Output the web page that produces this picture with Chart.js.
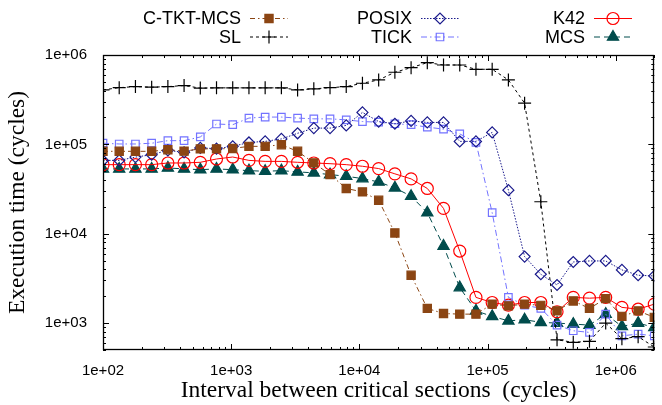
<!DOCTYPE html>
<html>
<head>
<meta charset="utf-8">
<script src="https://cdn.jsdelivr.net/npm/chart.js@4.4.1/dist/chart.umd.min.js"></script>
<style>
  html, body { margin: 0; padding: 0; background: #fff; }
  #wrap { position: relative; width: 662px; height: 405px; }
</style>
</head>
<body>
<div id="wrap"><canvas id="c" width="662" height="405"></canvas></div>
<script>
// Interval between critical sections (cycles)
const xValues = [100, 133.8, 179.1, 239.7, 320.7, 429.1, 574.2, 768.4, 1028, 1376, 1841, 2464, 3297, 4412, 5904, 7900,
  10570, 14145, 18928, 25330, 33895, 45357, 60696, 81222, 108690, 145447, 194635, 260458, 348543, 466415, 624152,
  835229, 1117689, 1495684, 2000000];

const cTktMcs = [83600, 83600, 83600, 83600, 87000, 84000, 89000, 89000, 90000, 95000, 95000, 99000, 83600, 62000, 45900, 32100,
  29400, 23700, 10200, 3430, 1460, 1280, 1260, 1260, 1630, 1560, 1630, 1580, 1370, 1770, 1460, 1880, 1190, 1370, 1160];
const sl = [407000, 431000, 443000, 436000, 443000, 455000, 426000, 429000, 429000, 429000, 429000, 429000, 407000, 418000, 431000, 443000,
  483000, 526000, 641000, 722000, 821000, 773000, 773000, 692000, 692000, 526000, 289000, 22800, 650, 610, 625, 1000, 670, 705, 540];
const posix = [66200, 66200, 72000, 76700, 85700, 81400, 91200, 89600, 95000, 105000, 108000, 115000, 133000, 152000, 152000, 163000,
  228000, 180000, 170000, 183000, 176000, 176000, 108000, 108000, 136000, 30700, 5550, 3520, 2670, 4830, 4960, 4960, 3940, 3430, 3370];
const tick = [103000, 101000, 101000, 103000, 110000, 110000, 121000, 169000, 166000, 197000, 202000, 202000, 197000, 193000, 193000, 188000,
  180000, 177000, 170000, 166000, 156000, 148000, 131000, 105000, 17200, 1940, 1590, 1460, 950, 821, 787, 1260, 721, 753, 721];
const k42 = [59300, 59300, 59300, 59300, 61900, 61900, 63000, 68600, 72200, 66200, 64500, 64500, 63000, 61900, 60800, 59300,
  56900, 53600, 46800, 41100, 32100, 19200, 6400, 1940, 1700, 1590, 1700, 1700, 1340, 1940, 1900, 1940, 1500, 1430, 1630];
const mcs = [53100, 53100, 53100, 53100, 54500, 53100, 52100, 53100, 52100, 50800, 50000, 50800, 49200, 48000, 45900, 44000,
  41400, 38000, 32600, 26300, 17200, 7280, 2500, 1370, 1190, 1060, 1090, 1020, 1000, 975, 950, 1260, 918, 1000, 895];

const seriesNames = ['C-TKT-MCS', 'SL', 'POSIX', 'TICK', 'K42', 'MCS'];
const xTickValues = [1e2, 1e3, 1e4, 1e5, 1e6];
const xTickLabels = ['1e+02', '1e+03', '1e+04', '1e+05', '1e+06'];
const yTickValues = [1e3, 1e4, 1e5, 1e6];
const yTickLabels = ['1e+03', '1e+04', '1e+05', '1e+06'];

const toPts = arr => arr.map((v, i) => ({ x: xValues[i], y: v }));

const styles = [
  { color: '#8b4513', point: 'rect', r: 5.8, fill: true, dash: [5, 3, 1.5, 3] },
  { color: '#000000', point: 'cross', r: 6.5, fill: false, dash: [3, 3] },
  { color: '#1a1a8c', point: 'rectRot', r: 5.5, fill: false, dash: [1.5, 1.5] },
  { color: '#7373ff', point: 'rect', r: 5.3, fill: false, dash: [6, 3, 1.5, 3] },
  { color: '#ff0000', point: 'circle', r: 6, fill: false, dash: [] },
  { color: '#004c4c', point: 'triangle', r: 6.5, fill: true, dash: [6, 4] }
];
const allSeries = [cTktMcs, sl, posix, tick, k42, mcs];

const datasets = allSeries.map((s, i) => ({
  label: seriesNames[i],
  data: toPts(s),
  borderColor: styles[i].color,
  backgroundColor: styles[i].fill ? styles[i].color : 'rgba(0,0,0,0)',
  borderWidth: 1,
  borderDash: styles[i].dash,
  pointStyle: styles[i].point,
  pointRadius: styles[i].r,
  pointBorderWidth: 1.2,
  pointBorderColor: styles[i].color,
  pointBackgroundColor: styles[i].fill ? styles[i].color : 'rgba(0,0,0,0)',
  tension: 0
}));

const legendCols = [241, 412, 585];
const legendRows = [18.5, 37];

const gnuplotDeco = {
  id: 'gnuplotDeco',
  afterDraw(chart) {
    const { ctx, chartArea: a, scales } = chart;
    const xs = scales.x, ys = scales.y;
    ctx.save();
    ctx.strokeStyle = '#000';
    ctx.lineWidth = 1;
    ctx.setLineDash([]);
    const line = (x1, y1, x2, y2) => { ctx.beginPath(); ctx.moveTo(x1, y1); ctx.lineTo(x2, y2); ctx.stroke(); };
    for (let d = 2; d <= 6; d++) {
      for (let m = 1; m <= 9; m++) {
        const v = m * Math.pow(10, d);
        if (v < xs.min || v > xs.max) continue;
        const px = Math.round(xs.getPixelForValue(v)) + 0.5;
        const len = m === 1 ? 6 : 3;
        line(px, a.bottom, px, a.bottom - len);
        line(px, a.top, px, a.top + len);
      }
    }
    for (let d = 2; d <= 6; d++) {
      for (let m = 1; m <= 9; m++) {
        const v = m * Math.pow(10, d);
        if (v < ys.min || v > ys.max) continue;
        const py = Math.round(ys.getPixelForValue(v)) + 0.5;
        const len = m === 1 ? 6 : 3;
        line(a.left, py, a.left + len, py);
        line(a.right, py, a.right - len, py);
      }
    }
    ctx.lineWidth = 1.3;
    ctx.strokeRect(Math.round(a.left) + 0.5, Math.round(a.top) + 0.5, Math.round(a.right - a.left) - 1, Math.round(a.bottom - a.top) - 1);

    // legend
    ctx.font = '18px "Liberation Sans", Arial, sans-serif';
    ctx.textAlign = 'right';
    ctx.textBaseline = 'middle';
    chart.data.datasets.forEach((ds, i) => {
      const col = Math.floor(i / 2), row = i % 2;
      const tx = legendCols[col], ty = legendRows[row];
      ctx.fillStyle = '#000';
      ctx.fillText(ds.label, tx, ty + 1);
      ctx.strokeStyle = ds.borderColor;
      ctx.lineWidth = 1;
      ctx.setLineDash(ds.borderDash);
      line(tx + 9, ty, tx + 47, ty);
      ctx.setLineDash([]);
      ctx.fillStyle = ds.pointBackgroundColor;
      ctx.lineWidth = ds.pointBorderWidth;
      Chart.helpers.drawPoint(ctx, { pointStyle: ds.pointStyle, radius: ds.pointRadius, rotation: 0, borderWidth: ds.pointBorderWidth }, tx + 28, ty);
    });
    ctx.restore();
  }
};

new Chart(document.getElementById('c'), {
  type: 'line',
  data: { datasets },
  options: {
    responsive: false,
    animation: false,
    devicePixelRatio: 1,
    layout: { padding: { top: 55, right: 3, left: 0, bottom: 0 } },
    plugins: { legend: { display: false }, tooltip: { enabled: false } },
    scales: {
      x: {
        type: 'logarithmic',
        min: 100, max: 2000000,
        grid: { display: false },
        border: { display: false },
        afterBuildTicks: s => { s.ticks = xTickValues.map(v => ({ value: v })); },
        afterFit: s => { s.height = 55; },
        ticks: {
          autoSkip: false, maxRotation: 0, padding: 4,
          color: '#000',
          font: { family: '"Liberation Sans", Arial, sans-serif', size: 15 },
          callback: v => xTickLabels[xTickValues.indexOf(v)] ?? ''
        },
        title: {
          display: true, text: 'Interval between critical sections  (cycles)', color: '#000',
          font: { family: '"Liberation Serif", "Times New Roman", serif', size: 23.5 },
          padding: { top: 0, bottom: 0 }
        }
      },
      y: {
        type: 'logarithmic',
        min: 500, max: 1000000,
        grid: { display: false },
        border: { display: false },
        afterBuildTicks: s => { s.ticks = yTickValues.map(v => ({ value: v })); },
        afterFit: s => { s.width = 103; },
        ticks: {
          autoSkip: false, padding: 8,
          color: '#000',
          font: { family: '"Liberation Sans", Arial, sans-serif', size: 15 },
          callback: v => yTickLabels[yTickValues.indexOf(v)] ?? ''
        },
        title: {
          display: true, text: 'Execution time (cycles)', color: '#000',
          font: { family: '"Liberation Serif", "Times New Roman", serif', size: 23.5 },
          padding: { top: 4, bottom: 0 }
        }
      }
    }
  },
  plugins: [gnuplotDeco]
});
</script>
</body>
</html>
